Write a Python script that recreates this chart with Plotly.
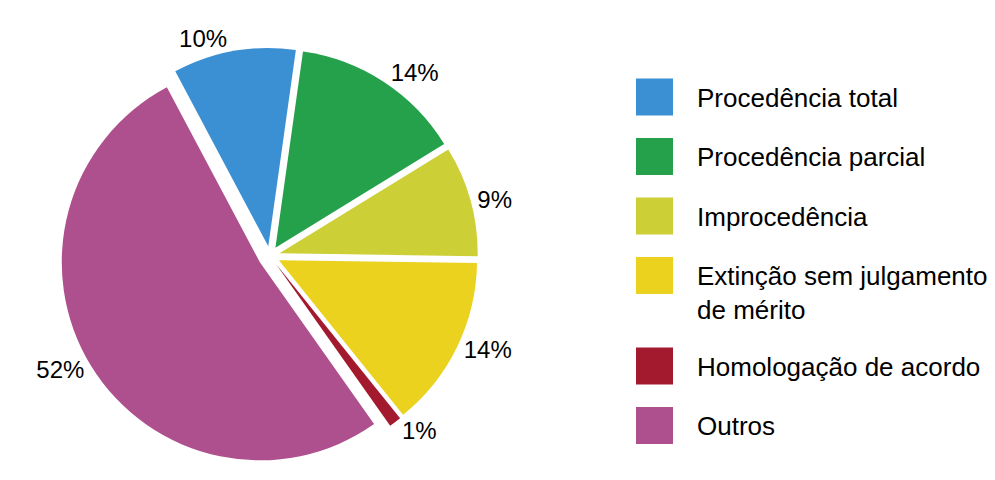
import plotly.graph_objects as go

# ---- data ----
categories = [
    "Procedência total",
    "Procedência parcial",
    "Improcedência",
    "Extinção sem julgamento<br>de mérito",
    "Homologação de acordo",
    "Outros",
]
values = [10, 14, 9, 14, 1, 52]
colors = ["#3b8fd3", "#25a04b", "#cccf35", "#ead21f", "#a31a2e", "#ae508d"]
pulls = [0.05, 0.05, 0.05, 0.05, 0.05, 0.06]

W, H = 995, 480
OFF = 8  # page body margin of the browser
FONT = "Arial, Liberation Sans, sans-serif"

cx, cy, D = 270 - OFF, 256 - OFF, 420

fig = go.Figure()
fig.add_trace(go.Pie(
    labels=categories,
    values=values,
    marker=dict(colors=colors, line=dict(width=0)),
    sort=False,
    direction="clockwise",
    rotation=-28,
    pull=pulls,
    textinfo="percent",
    textposition="outside",
    outsidetextfont=dict(size=24, color="black", family=FONT),
    automargin=False,
    domain=dict(x=[(cx - D / 2) / W, (cx + D / 2) / W],
                y=[1 - (cy + D / 2) / H, 1 - (cy - D / 2) / H]),
    showlegend=False,
    hoverinfo="label+percent",
))

# ---- legend drawn as layout decoration ----
shapes, annotations = [], []
y_px = 97.0 - OFF
step = 59.5
for name, col in zip(categories, colors):
    shapes.append(dict(
        type="rect", xref="paper", yref="paper",
        x0=(636 - OFF) / W, x1=(673 - OFF) / W,
        y0=1 - (y_px - 18.5) / H, y1=1 - (y_px + 18.5) / H,
        fillcolor=col, line=dict(width=0), layer="above",
    ))
    annotations.append(dict(
        text=name, xref="paper", yref="paper",
        x=(695 - OFF) / W, y=1 - (y_px - 16.5) / H,
        xanchor="left", yanchor="top", align="left", showarrow=False,
        font=dict(size=26, color="black", family=FONT),
    ))
    lines = name.count("<br>")
    y_px += step + 31 * lines

fig.update_layout(
    width=W, height=H,
    margin=dict(l=0, r=0, t=0, b=0, pad=0, autoexpand=False),
    showlegend=False,
    paper_bgcolor="white", plot_bgcolor="white",
    shapes=shapes, annotations=annotations,
    font=dict(family=FONT),
)

fig.write_html("out.html")
